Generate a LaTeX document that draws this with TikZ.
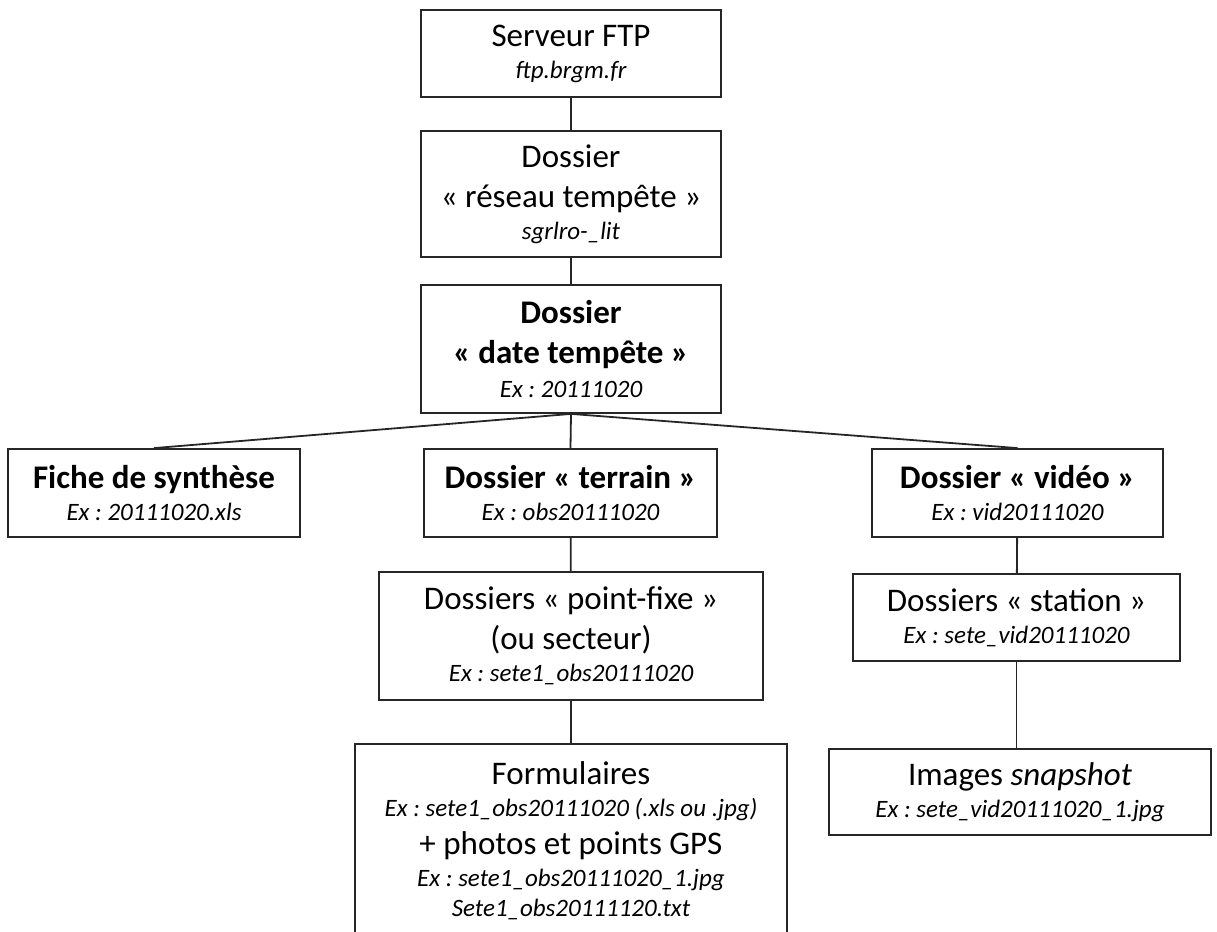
\documentclass[tikz,border=0pt]{standalone}
\usepackage{fontspec}
\setmainfont{Carlito}
\usepackage{tikz}
\usetikzlibrary{positioning, calc}
\frenchspacing
\newcommand{\exline}[1]{{\fontsize{12.5}{15}\selectfont\itshape #1}}

\begin{document}
\begin{tikzpicture}[
  x=0.5pt, y=-0.5pt,
  box/.style={
    rectangle,
    draw=black!85,
    line width=0.9pt,
    align=center,
    inner sep=2pt,
    font=\fontsize{16.5}{20}\selectfont
  },
  link/.style={
    line width=0.9pt,
    draw=black!85
  }
]

\useasboundingbox (0,0) rectangle (1217,932);

% Nodes (top of the tree)
\node[box, minimum width=150pt, minimum height=43.5pt] (serveur) at (571,53.5)
  {Serveur FTP\\[-4pt] \exline{ftp.brgm.fr}};
\node[box, minimum width=150pt, minimum height=63pt] (reseau) at (571,194)
  {Dossier\\ « réseau tempête »\\[-4pt] \exline{sgrlro-\_lit}};
\node[box, minimum width=150pt, minimum height=64pt] (date) at (571,349)
  {\textbf{Dossier}\\ \textbf{« date tempête »}\\[-3pt] \exline{Ex : 20111020}};

% Nodes (second level)
\node[box, minimum width=146pt, minimum height=44pt] (fiche) at (154,493)
  {\textbf{Fiche de synthèse}\\[-4pt] \exline{Ex : 20111020.xls}};
\node[box, minimum width=146.5pt, minimum height=44pt] (terrain) at (570.5,493)
  {\textbf{Dossier « terrain »}\\[-4pt] \exline{Ex : obs20111020}};
\node[box, minimum width=145.5pt, minimum height=44pt] (video) at (1017.5,493)
  {\textbf{Dossier « vidéo »}\\[-4pt] \exline{Ex : vid20111020}};

% Nodes (lower levels)
\node[box, minimum width=192pt, minimum height=64pt] (pointfixe) at (571,636)
  {Dossiers « point-fixe »\\ (ou secteur)\\[-4pt] \exline{Ex : sete1\_obs20111020}};
\node[box, minimum width=163.5pt, minimum height=43.5pt] (station) at (1016.5,617.5)
  {Dossiers « station »\\[-4pt] \exline{Ex : sete\_vid20111020}};
\node[box, minimum width=216pt, minimum height=97pt] (formulaires) at (571,841)
  {Formulaires\\[-4pt] \exline{Ex : sete1\_obs20111020 (.xls ou .jpg)}\\[-1pt]
   + photos et points GPS\\[-4pt] \exline{Ex : sete1\_obs20111020\_1.jpg}\\[-5pt]
   \exline{Sete1\_obs20111120.txt}};
\node[box, minimum width=191pt, minimum height=43pt] (images) at (1020,792)
  {Images \textit{snapshot}\\[-4pt] \exline{Ex : sete\_vid20111020\_1.jpg}};

% Links
\draw[link] (serveur) -- (reseau);
\draw[link] (reseau) -- (date);
\draw[link] (date.south) -- (fiche.north);
\draw[link] (date.south) -- (terrain.north);
\draw[link] (date.south) -- (video.north);
\draw[link] (terrain) -- (pointfixe);
\draw[link] (pointfixe) -- (formulaires);
\draw[link] (video) -- (station);
\draw[link] (station.south) -- (station.south |- images.north);

\end{tikzpicture}
\end{document}
